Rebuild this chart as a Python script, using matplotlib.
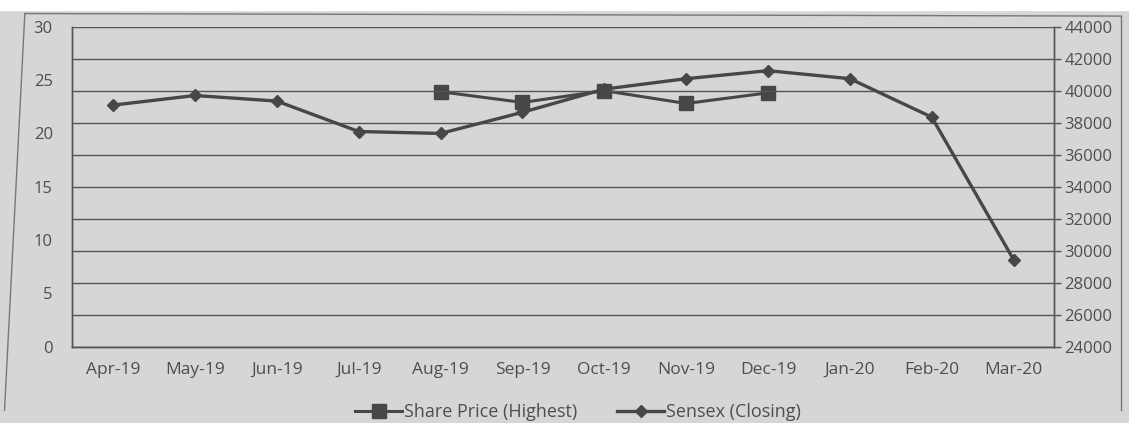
import numpy as np
import matplotlib.pyplot as plt
from matplotlib.patches import Rectangle
from matplotlib.lines import Line2D

plt.rcParams['font.family'] = ['Open Sans', 'DejaVu Sans']

# data
months = ['Apr-19', 'May-19', 'Jun-19', 'Jul-19', 'Aug-19', 'Sep-19',
          'Oct-19', 'Nov-19', 'Dec-19', 'Jan-20', 'Feb-20', 'Mar-20']
share_price = [np.nan, np.nan, np.nan, np.nan, 23.9, 22.9,
               24.0, 22.8, 23.8, np.nan, np.nan, np.nan]
sensex = [39100, 39700, 39350, 37450, 37330, 38650,
          40100, 40750, 41250, 40750, 38350, 29450]

paper = '#d6d6d4'
ink = '#474747'
txt = '#4e4e4e'

fig = plt.figure(figsize=(11.29, 4.23), dpi=100, facecolor=paper)
# white strip at top of photo
fig.patches.append(Rectangle((0, 0.976), 1, 0.03, transform=fig.transFigure,
                             color='white', zorder=0))
# outer chart border
fig.lines.append(Line2D([0.022, 0.993], [0.968, 0.962], transform=fig.transFigure,
                        color='#777', lw=1))
fig.lines.append(Line2D([0.022, 0.004], [0.968, 0.03], transform=fig.transFigure,
                        color='#777', lw=1))
fig.lines.append(Line2D([0.993, 0.993], [0.962, 0.03], transform=fig.transFigure,
                        color='#777', lw=1))

ax = fig.add_axes([0.064, 0.180, 0.870, 0.757])
ax.set_facecolor(paper)
ax2 = ax.twinx()

x = np.arange(len(months))

l1, = ax.plot(x, share_price, color=ink, lw=2.2, marker='s', markersize=9.5,
              zorder=5)
l2, = ax2.plot(x, sensex, color=ink, lw=2.4, marker='D', markersize=6.5,
               zorder=5)

ax.set_xlim(-0.5, 11.5)
ax.set_ylim(0, 30)
ax.set_yticks(range(0, 31, 5))
ax2.set_ylim(24000, 44000)
ax2.set_yticks(range(24000, 44001, 2000))
ax2.yaxis.grid(True, color='#555', lw=1)
ax2.set_axisbelow(True)

ax.set_xticks(x)
ax.set_xticklabels(months)
ax.tick_params(axis='x', length=0, pad=11, labelsize=12.5, colors=txt)
ax.tick_params(axis='y', length=0, pad=14, labelsize=12, colors=txt)
ax2.tick_params(axis='y', length=5, width=1, color='#555', pad=2,
                labelsize=12, colors=txt)

for a in (ax, ax2):
    a.spines['top'].set_visible(False)
    for s in ('left', 'right', 'bottom'):
        a.spines[s].set_color('#555')
        a.spines[s].set_linewidth(1)

ax.legend([l1, l2], ['Share Price (Highest)', 'Sensex (Closing)'],
          loc='upper center', bbox_to_anchor=(0.515, -0.125), ncol=2,
          frameon=False, fontsize=13, labelcolor=txt, handlelength=2.6,
          columnspacing=2.2, handletextpad=0.1)

fig.savefig('out.png', dpi=100, facecolor=paper)
